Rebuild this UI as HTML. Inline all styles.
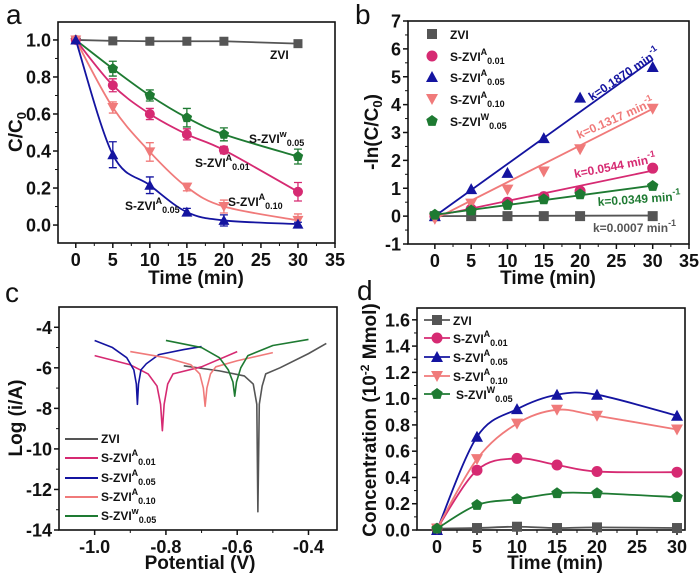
<!DOCTYPE html>
<html><head><meta charset="utf-8">
<style>
html,body{margin:0;padding:0;background:#fff;}
svg{display:block;font-family:"Liberation Sans",Arial,sans-serif;}
.tk{font-size:18px;font-weight:bold;fill:#111;}
.tt{font-size:19px;font-weight:bold;fill:#111;}
.lg{font-size:12px;font-weight:bold;fill:#111;}
.pl{font-size:28px;fill:#111;}
</style></head>
<body>
<svg id="fig" width="700" height="575" viewBox="0 0 700 575"></svg>
<script>
// ---------- data ----------
const timeA = [0,5,10,15,20,30];
const a_ZVI = [1,0.995,0.993,0.993,0.993,0.98];
const a_W005 = [1,0.845,0.70,0.58,0.49,0.37];
const a_A001 = [1,0.755,0.60,0.49,0.405,0.18];
const a_A010 = [1,0.635,0.395,0.205,0.10,0.025];
const a_A005 = [1,0.38,0.215,0.07,0.025,0.005];
const a_err_W005 = [0,0.04,0.03,0.05,0.035,0.04];
const a_err_A001 = [0,0.035,0.03,0.03,0.02,0.05];
const a_err_A010 = [0,0.03,0.05,0.02,0.035,0.035];
const a_err_A005 = [0,0.07,0.045,0.02,0.03,0.01];

const b_ZVI = [0,0,0,0,0,0];
const b_A001 = [0,0.25,0.5,0.7,0.9,1.72];
const b_A005 = [0,0.97,1.55,2.8,4.25,5.35];
const b_A010 = [-0.1,0.45,0.95,1.6,2.4,3.85];
const b_W005 = [0.05,0.2,0.4,0.6,0.78,1.08];
const b_slopes = [0.0007,0.0544,0.1870,0.1317,0.0349];
const b_intercepts = [0,0,0,-0.1,0.05];
const b_klabels = ["k=0.0007 min","k=0.0544 min","k=0.1870 min","k=0.1317 min","k=0.0349 min"];

const c_ZVI_x = [-0.75,-0.65,-0.58,-0.555,-0.545,-0.542,-0.538,-0.53,-0.52,-0.48,-0.4,-0.35];
const c_ZVI_y = [-5.9,-6.15,-6.4,-6.8,-7.8,-13.1,-7.8,-6.9,-6.3,-6.0,-5.3,-4.8];
const c_A001_x = [-1.0,-0.9,-0.85,-0.825,-0.815,-0.81,-0.805,-0.795,-0.78,-0.7,-0.6];
const c_A001_y = [-5.4,-5.85,-6.3,-6.9,-7.8,-9.1,-7.8,-6.8,-6.3,-5.95,-5.2];
const c_A005_x = [-1.0,-0.95,-0.91,-0.89,-0.883,-0.88,-0.877,-0.87,-0.855,-0.82,-0.75,-0.7];
const c_A005_y = [-4.65,-5.0,-5.5,-6.1,-6.8,-7.8,-6.8,-6.1,-5.8,-5.35,-5.1,-4.95];
const c_A010_x = [-0.9,-0.8,-0.73,-0.705,-0.695,-0.69,-0.685,-0.675,-0.66,-0.6,-0.5];
const c_A010_y = [-5.2,-5.5,-5.85,-6.3,-7.0,-7.9,-7.0,-6.3,-5.95,-5.65,-5.25];
const c_W005_x = [-0.8,-0.7,-0.65,-0.625,-0.612,-0.607,-0.602,-0.59,-0.57,-0.5,-0.4];
const c_W005_y = [-4.65,-5.0,-5.5,-6.1,-6.7,-7.4,-6.7,-6.0,-5.4,-4.9,-4.6];

const d_ZVI = [0.01,0.015,0.025,0.015,0.02,0.015];
const d_A001 = [0.01,0.455,0.545,0.495,0.445,0.44];
const d_A005 = [0,0.71,0.92,1.03,1.03,0.87];
const d_A010 = [0.01,0.54,0.81,0.915,0.87,0.765];
const d_W005 = [0.01,0.19,0.235,0.28,0.28,0.25];

const xTicksTime = [0,5,10,15,20,25,30,35];
const xTicksTimeD = [0,5,10,15,20,25,30];
const yTicksA = [0,0.2,0.4,0.6,0.8,1.0];
const yTicksB = [-1,0,1,2,3,4,5,6,7];
const xTicksC = [-1.0,-0.8,-0.6,-0.4];
const yTicksC = [-14,-12,-10,-8,-6,-4];
const yTicksD = [0,0.2,0.4,0.6,0.8,1.0,1.2,1.4,1.6];

const COL = {ZVI:"#555555",A001:"#d62a72",A005:"#1414a0",A010:"#f07a7a",W005:"#1e7a32"};
const NS="http://www.w3.org/2000/svg";
const svg=document.getElementById('fig');
function el(tag,attrs,parent){const e=document.createElementNS(NS,tag);for(const k in attrs)e.setAttribute(k,attrs[k]);(parent||svg).appendChild(e);return e;}

function makeAxes(p){
  const g=el('g',{});
  
  
  p.g=g;
  p.sx=v=>p.x0+(v-p.xmin)/(p.xmax-p.xmin)*(p.x1-p.x0);
  p.sy=v=>p.y1-(v-p.ymin)/(p.ymax-p.ymin)*(p.y1-p.y0);
  p.xt.forEach((t,i)=>{
    const x=p.sx(t);
    el('line',{x1:x,x2:x,y1:p.y1,y2:p.y1+5,stroke:'#111','stroke-width':1.5},g);
    const tx=el('text',{x:x,y:p.y1+23,'text-anchor':'middle',class:'tk'},g);
    tx.textContent=p.xfmt(t);
    
    
    if(i<p.xt.length-1){const m=p.sx((t+p.xt[i+1])/2);el('line',{x1:m,x2:m,y1:p.y1,y2:p.y1+3,stroke:'#111','stroke-width':1},g);}
  });
  p.yt.forEach((t,i)=>{
    const y=p.sy(t);
    el('line',{x1:p.x0-5,x2:p.x0,y1:y,y2:y,stroke:'#111','stroke-width':1.5},g);
    const tx=el('text',{x:p.x0-7,y:y+6.5,'text-anchor':'end',class:'tk'},g);
    tx.textContent=p.yfmt(t);
    
    
    if(i<p.yt.length-1){const m=p.sy((t+p.yt[i+1])/2);el('line',{x1:p.x0-3,x2:p.x0,y1:m,y2:m,stroke:'#111','stroke-width':1},g);}
  });
  const r=el('rect',{x:p.x0,y:p.y0,width:p.x1-p.x0,height:p.y1-p.y0,fill:'none',stroke:'#111','stroke-width':1.6},g);
  
  
  return p;
}
function smoothPath(pts){
  let d='M'+pts[0][0]+','+pts[0][1];
  for(let i=0;i<pts.length-1;i++){
    const p0=pts[Math.max(0,i-1)],p1=pts[i],p2=pts[i+1],p3=pts[Math.min(pts.length-1,i+2)];
    const c1=[p1[0]+(p2[0]-p0[0])/6,p1[1]+(p2[1]-p0[1])/6];
    const c2=[p2[0]-(p3[0]-p1[0])/6,p2[1]-(p3[1]-p1[1])/6];
    d+=' C'+c1+' '+c2+' '+p2;
  }
  return d;
}
function marker(g,type,x,y,c,s){
  s=s||5;let e;
  if(type==='sq')e=el('rect',{x:x-s,y:y-s,width:2*s,height:2*s,fill:c},g);
  else if(type==='ci')e=el('circle',{cx:x,cy:y,r:s+0.5,fill:c},g);
  else if(type==='up')e=el('polygon',{points:`${x},${y-s-1} ${x-s-1},${y+s} ${x+s+1},${y+s}`,fill:c},g);
  else if(type==='dn')e=el('polygon',{points:`${x},${y+s+1} ${x-s-1},${y-s} ${x+s+1},${y-s}`,fill:c},g);
  else {const pts=[];for(let k=0;k<5;k++){const a=-Math.PI/2+k*2*Math.PI/5;pts.push((x+(s+1)*Math.cos(a))+','+(y+(s+1)*Math.sin(a)));}e=el('polygon',{points:pts.join(' '),fill:c},g);}
  
  
  return e;
}
function text(g,x,y,str,cls,name,extra){
  const t=el('text',Object.assign({x:x,y:y,class:cls},extra||{}),g);
  t.innerHTML=str;
  
  
  return t;
}
function lbl(sup,sub){return `S-ZVI<tspan dy="-6" font-size="9">${sup}</tspan><tspan dy="9" font-size="9">${sub}</tspan>`;}
const f1=v=>v.toFixed(1);
const f0=v=>String(v);

// ---------- panel a ----------
const pa=makeAxes({name:'panel-a',x0:58,x1:335,y0:22,y1:243,xmin:-2.4,xmax:35,ymin:-0.097,ymax:1.097,xt:xTicksTime,yt:yTicksA,xfmt:f0,yfmt:f1});
[[a_ZVI,null,'sq','ZVI',false],[a_W005,a_err_W005,'pe','W005',true],[a_A001,a_err_A001,'ci','A001',true],[a_A010,a_err_A010,'dn','A010',true],[a_A005,a_err_A005,'up','A005',true]].forEach(([vals,err,m,k,sm])=>{
  const c=COL[k];
  const pts=timeA.map((t,i)=>[pa.sx(t),pa.sy(vals[i])]);
  const path=el('path',{d:sm?smoothPath(pts):'M'+pts.join(' L'),fill:'none',stroke:c,'stroke-width':1.8},pa.g);
  
  
  timeA.forEach((t,i)=>{
    const x=pa.sx(t),y=pa.sy(vals[i]);
    if(err&&err[i]>0){const y1=pa.sy(vals[i]+err[i]),y2=pa.sy(vals[i]-err[i]);
      el('path',{d:`M${x},${y1}V${y2}M${x-4},${y1}H${x+4}M${x-4},${y2}H${x+4}`,stroke:c,'stroke-width':1.3,fill:'none'},pa.g);}
    marker(pa.g,m,x,y,c,4.5);
  });
});
text(pa.g,270,59,'ZVI','lg','label-zvi');
text(pa.g,249,143,lbl('w','0.05'),'lg','label-w005');
text(pa.g,195,167,lbl('A','0.01'),'lg','label-a001');
text(pa.g,228,206,lbl('A','0.10'),'lg','label-a010');
text(pa.g,125,210,lbl('A','0.05'),'lg','label-a005');
text(pa.g,196,284,'Time (min)','tt','x-axis-title',{'text-anchor':'middle'});
text(pa.g,0,0,'C/C<tspan dy="4" font-size="13">0</tspan>','tt','y-axis-title',{transform:'translate(22,132) rotate(-90)','text-anchor':'middle'});
text(pa.g,6,24,'a','pl','panel-label-a');

// ---------- panel b ----------
const pb=makeAxes({name:'panel-b',x0:408,x1:689,y0:21,y1:244,xmin:-3.7,xmax:35,ymin:-1,ymax:7,xt:xTicksTime,yt:yTicksB,xfmt:f0,yfmt:f0});
const bSeries=[[b_ZVI,'sq','ZVI'],[b_A001,'ci','A001'],[b_A005,'up','A005'],[b_A010,'dn','A010'],[b_W005,'pe','W005']];
bSeries.forEach(([vals,m,k],j)=>{
  const c=COL[k];
  const ln=el('line',{x1:pb.sx(0),y1:pb.sy(b_intercepts[j]),x2:pb.sx(30),y2:pb.sy(b_intercepts[j]+b_slopes[j]*30),stroke:c,'stroke-width':1.8},pb.g);
  
  
  timeA.forEach((t,i)=>marker(pb.g,m,pb.sx(t),pb.sy(vals[i]),c,5));
});
const kPos=[[593,232,0],[575,178,-11],[592,101,-34],[579,139,-24],[598,206,-4]];
bSeries.forEach(([v,m,k],j)=>{
  const [x,y,r]=kPos[j];
  text(pb.g,x,y,b_klabels[j]+'<tspan dy="-6" font-size="9">-1</tspan>','lg','k-label-'+k.toLowerCase(),{fill:COL[k],style:'fill:'+COL[k],transform:`rotate(${r},${x},${y})`});
});
const bLegY=[34,56,77,99,121];
bSeries.forEach(([v,m,k],j)=>{
  marker(pb.g,m,432,bLegY[j],COL[k],5);
  text(pb.g,450,bLegY[j]+5,k==='ZVI'?'ZVI':lbl(k[0]==='W'?'W':'A',k==='A001'?'0.01':k==='A010'?'0.10':'0.05'),'lg','legend-entry-'+k.toLowerCase());
});
text(pb.g,548,284,'Time (min)','tt','x-axis-title',{'text-anchor':'middle'});
text(pb.g,0,0,'-ln(C/C<tspan dy="4" font-size="13">0</tspan><tspan dy="-4">)</tspan>','tt','y-axis-title',{transform:'translate(378,132) rotate(-90)','text-anchor':'middle'});
text(pb.g,355,24,'b','pl','panel-label-b');

// ---------- panel c ----------
const pc=makeAxes({name:'panel-c',x0:59,x1:337,y0:307,y1:530,xmin:-1.1,xmax:-0.32,ymin:-14,ymax:-3,xt:xTicksC,yt:yTicksC,xfmt:f1,yfmt:f0});
const cSeries=[[c_ZVI_x,c_ZVI_y,'ZVI'],[c_A001_x,c_A001_y,'A001'],[c_A005_x,c_A005_y,'A005'],[c_A010_x,c_A010_y,'A010'],[c_W005_x,c_W005_y,'W005']];
cSeries.forEach(([xs,ys,k])=>{
  const pts=xs.map((x,i)=>[pc.sx(x),pc.sy(ys[i])]);
  const p=el('path',{d:'M'+pts.join(' L'),fill:'none',stroke:COL[k],'stroke-width':1.6,'stroke-linejoin':'round'},pc.g);
  
  
});
const cLegY=[439,458,478,497,516];
cSeries.forEach(([a,b,k],j)=>{
  el('line',{x1:65,x2:98,y1:cLegY[j],y2:cLegY[j],stroke:COL[k],'stroke-width':2},pc.g);
  text(pc.g,101,cLegY[j]+4,k==='ZVI'?'ZVI':lbl(k[0]==='W'?'w':'A',k==='A001'?'0.01':k==='A010'?'0.10':'0.05'),'lg','legend-entry-'+k.toLowerCase());
});
text(pc.g,200,569,'Potential (V)','tt','x-axis-title',{'text-anchor':'middle'});
text(pc.g,0,0,'Log (i/A)','tt','y-axis-title',{transform:'translate(22,418) rotate(-90)','text-anchor':'middle'});
text(pc.g,5,302,'c','pl','panel-label-c');

// ---------- panel d ----------
const pd=makeAxes({name:'panel-d',x0:417,x1:685,y0:308,y1:530,xmin:-2.5,xmax:31,ymin:0,ymax:1.69,xt:xTicksTimeD,yt:yTicksD,xfmt:f0,yfmt:f1});
const dSeries=[[d_ZVI,'sq','ZVI'],[d_A001,'ci','A001'],[d_A005,'up','A005'],[d_A010,'dn','A010'],[d_W005,'pe','W005']];
dSeries.forEach(([vals,m,k])=>{
  const pts=timeA.map((t,i)=>[pd.sx(t),pd.sy(vals[i])]);
  const p=el('path',{d:smoothPath(pts),fill:'none',stroke:COL[k],'stroke-width':1.8},pd.g);
  
  
  timeA.forEach((t,i)=>marker(pd.g,m,pd.sx(t),pd.sy(vals[i]),COL[k],5));
});
const dLegY=[320,338,357,376,394];
dSeries.forEach(([v,m,k],j)=>{
  el('line',{x1:424,x2:450,y1:dLegY[j],y2:dLegY[j],stroke:COL[k],'stroke-width':1.8},pd.g);
  marker(pd.g,m,437,dLegY[j],COL[k],5);
  text(pd.g,k==='W005'?456:453,dLegY[j]+5,k==='ZVI'?'ZVI':lbl(k[0]==='W'?'W':'A',k==='A001'?'0.01':k==='A010'?'0.10':'0.05'),'lg','legend-entry-'+k.toLowerCase());
});
text(pd.g,555,569,'Time (min)','tt','x-axis-title',{'text-anchor':'middle'});
text(pd.g,0,0,'Concentration (10<tspan dy="-7" font-size="12">-2</tspan><tspan dy="7"> Mmol)</tspan>','tt','y-axis-title',{transform:'translate(376,420) rotate(-90)','text-anchor':'middle'});
text(pd.g,357,300,'d','pl','panel-label-d');
</script>
</body></html>
